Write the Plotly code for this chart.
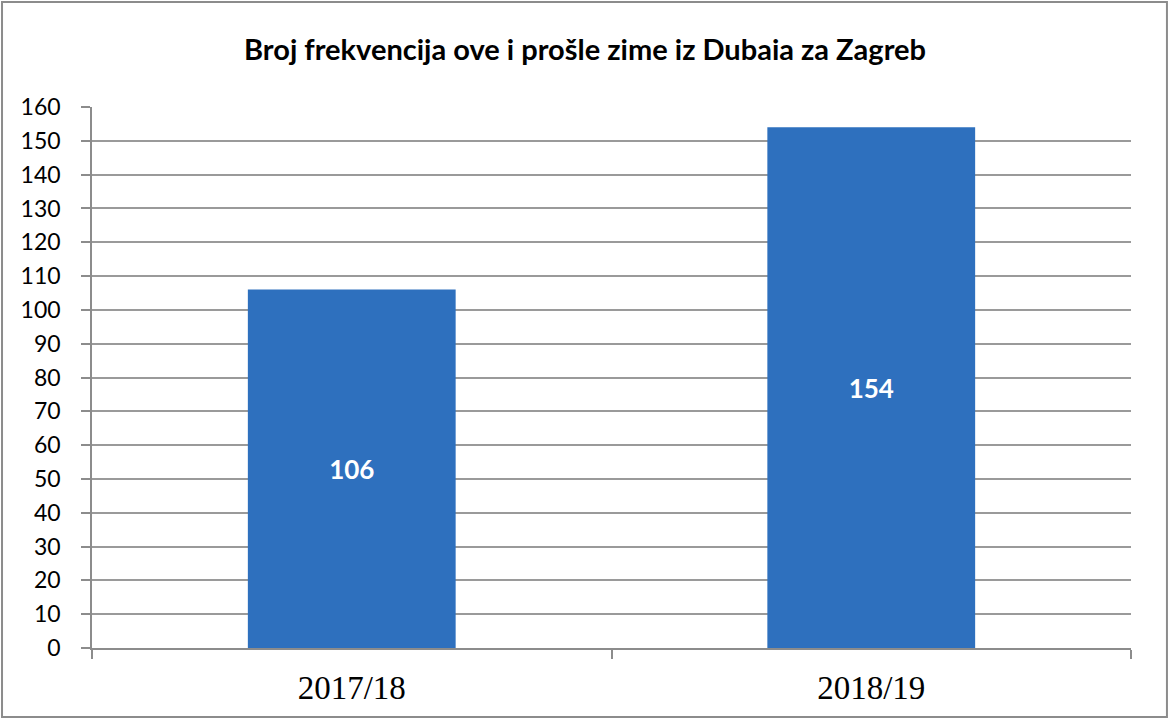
import plotly.graph_objects as go

# data
seasons = ["2017/18", "2018/19"]
frequencies = [106, 154]
y_ticks = list(range(0, 161, 10))

fig = go.Figure()

fig.add_trace(go.Bar(
    x=seasons,
    y=frequencies,
    marker=dict(color="#2E70BE", line=dict(width=0)),
    text=[str(v) for v in frequencies],
    textposition="inside",
    insidetextanchor="middle",
    textfont=dict(family="Lato", size=26, color="white", weight="bold"),
    showlegend=False,
))

fig.update_layout(
    width=1170,
    height=719,
    margin=dict(l=92, r=39, t=107, b=71),
    paper_bgcolor="white",
    plot_bgcolor="white",
    bargap=0.6,
    title=dict(
        text="<b>Broj frekvencija ove i prošle zime iz Dubaia za Zagreb</b>",
        x=0.5, xanchor="center", y=0.93, yanchor="middle",
        font=dict(family="Lato", size=29, color="black"),
    ),
    shapes=[dict(
        type="rect", xref="paper", yref="paper",
        x0=-0.0866, x1=1.0346, y0=-0.1275, y1=1.194,
        line=dict(color="#8c8c8c", width=2),
    )],
)

fig.update_yaxes(
    range=[0, 160],
    tickvals=y_ticks,
    showgrid=True,
    gridcolor="#9a9a9a",
    gridwidth=1.5,
    showline=True,
    linecolor="#8c8c8c",
    linewidth=1.5,
    ticks="outside",
    ticklen=9,
    tickcolor="#8c8c8c",
    tickwidth=1.5,
    ticklabelstandoff=16,
    tickfont=dict(family="Lato", size=23, color="black"),
    zeroline=False,
)

fig.update_xaxes(
    showline=True,
    linecolor="#8c8c8c",
    linewidth=1.5,
    ticks="outside",
    tickson="boundaries",
    ticklen=9,
    tickcolor="#8c8c8c",
    tickwidth=1.5,
    ticklabelstandoff=10,
    tickfont=dict(family="Liberation Serif", size=33, color="black"),
)

# page has a default body margin; drop it so the chart fills the window
fig.write_html(
    "out.html",
    config={"displayModeBar": False},
    post_script="document.body.style.margin='0';",
)
